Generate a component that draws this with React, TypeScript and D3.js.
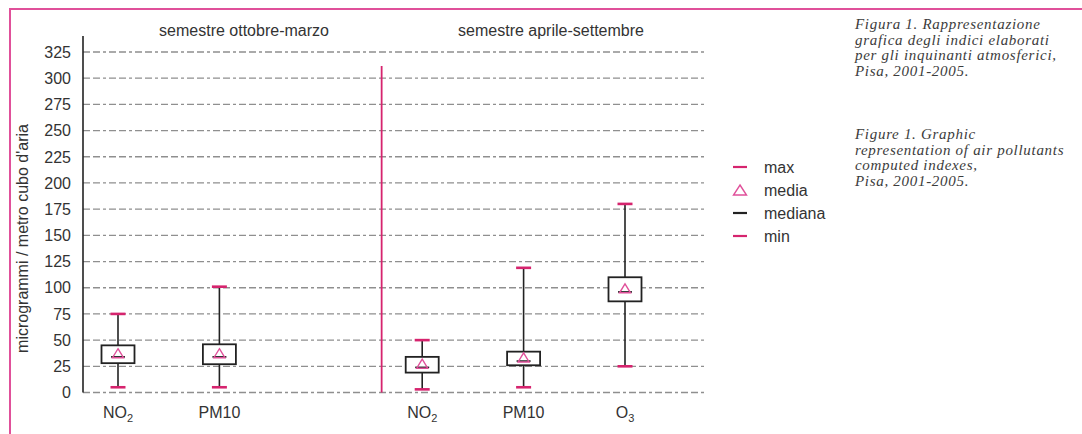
import React, { useEffect, useRef } from 'react';
import * as d3 from 'd3';

// slots along the x axis (one empty slot separates the two semesters)
const slots = ['NO2-inv', 'PM10-inv', 'gap', 'NO2-est', 'PM10-est', 'O3-est'];
const pollutants = ['NO2', 'PM10', 'NO2', 'PM10', 'O3'];
const slotOf = ['NO2-inv', 'PM10-inv', 'NO2-est', 'PM10-est', 'O3-est'];
const maxVals = [75, 101, 50, 119, 180];
const q3Vals = [45, 46, 34, 39, 110];
const meanVals = [37, 37, 27, 33, 99];
const medianVals = [34, 34, 24, 30, 96];
const q1Vals = [28, 27, 19, 26, 87];
const minVals = [5, 5, 3, 5, 25];

const yTicks = [0, 25, 50, 75, 100, 125, 150, 175, 200, 225, 250, 275, 300, 325];
const semesters = ['semestre ottobre-marzo', 'semestre aprile-settembre'];
const legendItems = ['max', 'media', 'mediana', 'min'];
const captionIt = ['Figura 1. Rappresentazione', 'grafica degli indici elaborati', 'per gli inquinanti atmosferici,', 'Pisa, 2001-2005.'];
const captionEn = ['Figure 1. Graphic', 'representation of air pollutants', 'computed indexes,', 'Pisa, 2001-2005.'];

const PINK = '#d6246e';
const FONT = 'Liberation Sans, Arial, sans-serif';
const FS = 16;

export default function App() {
  const svgRef = useRef<SVGSVGElement>(null);

  useEffect(() => {
    if (!svgRef.current) return;
    const svg = d3.select(svgRef.current);
    svg.selectAll('*').remove();

    const y = d3.scaleLinear().domain([0, 325]).range([392.5, 52]);
    const x = d3.scalePoint<string>().domain(slots).range([118, 625]);
    const axisX = 83;
    const gridEnd = 706;

    // outer pink frame
    svg.append('rect').attr('x', 10).attr('y', 9).attr('width', 1100).attr('height', 460)
      .attr('fill', 'none').attr('stroke', '#e0509a').attr('stroke-width', 2);

    const g = svg.append('g');

    // dashed grid
    g.selectAll('.grid').data(yTicks).enter().append('line')
      .attr('x1', axisX).attr('x2', gridEnd)
      .attr('y1', d => y(d)).attr('y2', d => y(d))
      .attr('stroke', '#8f8f8f').attr('stroke-width', 1.3)
      .attr('stroke-dasharray', '7,3,7,3,3,3');

    // y axis line
    g.append('line').attr('x1', axisX).attr('x2', axisX).attr('y1', 36).attr('y2', y(0))
      .attr('stroke', '#222').attr('stroke-width', 1.6);

    // tick labels
    g.selectAll('.tl').data(yTicks).enter().append('text')
      .attr('x', 71).attr('y', d => y(d)).attr('dy', '0.36em')
      .attr('text-anchor', 'end').attr('font-family', FONT).attr('font-size', FS)
      .attr('fill', '#333').text(d => d);

    // y label
    g.append('text')
      .attr('transform', `translate(28, ${y(147)}) rotate(-90)`)
      .attr('text-anchor', 'middle').attr('font-family', FONT).attr('font-size', FS)
      .attr('fill', '#333').text("microgrammi / metro cubo d'aria");

    // separator between semesters
    const step = x.step();
    const sepX = x('gap')! + step * 0.6;
    g.append('line').attr('x1', sepX).attr('x2', sepX).attr('y1', 66).attr('y2', y(0))
      .attr('stroke', PINK).attr('stroke-width', 1.8);

    // semester titles
    g.append('text').attr('x', 244).attr('y', 36).attr('text-anchor', 'middle')
      .attr('font-family', FONT).attr('font-size', FS).attr('fill', '#333').text(semesters[0]);
    g.append('text').attr('x', 551).attr('y', 36).attr('text-anchor', 'middle')
      .attr('font-family', FONT).attr('font-size', FS).attr('fill', '#333').text(semesters[1]);

    // boxes
    const data = pollutants.map((p, i) => ({
      p, cx: x(slotOf[i])!, max: maxVals[i], q3: q3Vals[i], mean: meanVals[i],
      median: medianVals[i], q1: q1Vals[i], min: minVals[i],
    }));
    const bw = 33;
    const cap = 15;
    const boxes = g.selectAll('.box').data(data).enter().append('g');
    boxes.append('line').attr('x1', d => d.cx).attr('x2', d => d.cx)
      .attr('y1', d => y(d.max)).attr('y2', d => y(d.min))
      .attr('stroke', '#222').attr('stroke-width', 1.6);
    boxes.append('rect').attr('x', d => d.cx - bw / 2).attr('width', bw)
      .attr('y', d => y(d.q3)).attr('height', d => y(d.q1) - y(d.q3))
      .attr('fill', '#fff').attr('stroke', '#222').attr('stroke-width', 1.8);
    boxes.append('line').attr('x1', d => d.cx - 7).attr('x2', d => d.cx + 7)
      .attr('y1', d => y(d.median)).attr('y2', d => y(d.median))
      .attr('stroke', '#222').attr('stroke-width', 1.6);
    boxes.append('path')
      .attr('d', d => {
        const cy = y(d.mean);
        return `M${d.cx},${cy - 5} L${d.cx + 5.5},${cy + 4} L${d.cx - 5.5},${cy + 4} Z`;
      })
      .attr('fill', 'none').attr('stroke', '#e0509a').attr('stroke-width', 1.4);
    ['max', 'min'].forEach(k => {
      boxes.append('line').attr('x1', d => d.cx - cap / 2).attr('x2', d => d.cx + cap / 2)
        .attr('y1', d => y((d as any)[k])).attr('y2', d => y((d as any)[k]))
        .attr('stroke', PINK).attr('stroke-width', 2.6);
    });

    // category labels
    const lab = boxes.append('text').attr('x', d => d.cx).attr('y', 418)
      .attr('text-anchor', 'middle').attr('font-family', FONT).attr('font-size', FS)
      .attr('fill', '#333');
    lab.each(function (d) {
      const t = d3.select(this);
      const m = d.p.match(/^([A-Z]+)(\d)$/);
      if (m) {
        t.append('tspan').text(m[1]);
        t.append('tspan').attr('font-size', 11).attr('dy', 4).text(m[2]);
      } else {
        t.text(d.p);
      }
    });

    // legend
    const leg = g.selectAll('.leg').data(legendItems).enter().append('g')
      .attr('transform', (d, i) => `translate(733, ${167 + i * 23})`);
    leg.each(function (d) {
      const s = d3.select(this);
      if (d === 'media') {
        s.append('path').attr('d', 'M7,-5 L13.5,5 L0.5,5 Z').attr('fill', 'none')
          .attr('stroke', '#e0509a').attr('stroke-width', 1.4);
      } else {
        s.append('line').attr('x1', 0).attr('x2', 14).attr('y1', 0).attr('y2', 0)
          .attr('stroke', d === 'mediana' ? '#222' : PINK).attr('stroke-width', 2.2);
      }
      s.append('text').attr('x', 31).attr('y', 0).attr('dy', '0.36em')
        .attr('font-family', FONT).attr('font-size', FS).attr('fill', '#333').text(d);
    });

    // caption
    const capStyle = (t: any) => t.attr('font-family', 'Liberation Serif, serif')
      .attr('font-style', 'italic').attr('font-size', 15).attr('letter-spacing', 0.7)
      .attr('fill', '#3c3c3c');
    const cap1 = capStyle(g.append('text'));
    captionIt.forEach((l, i) => cap1.append('tspan').attr('x', 855).attr('y', 29 + i * 15.5).text(l));
    const cap2 = capStyle(g.append('text'));
    captionEn.forEach((l, i) => cap2.append('tspan').attr('x', 855).attr('y', 139 + i * 15.5).text(l));
  }, []);

  return (
    <div style={{ position: 'absolute', left: 0, top: 0, width: 1082, height: 434, background: '#fff' }}>
      <svg ref={svgRef} width={1082} height={434} />
    </div>
  );
}
